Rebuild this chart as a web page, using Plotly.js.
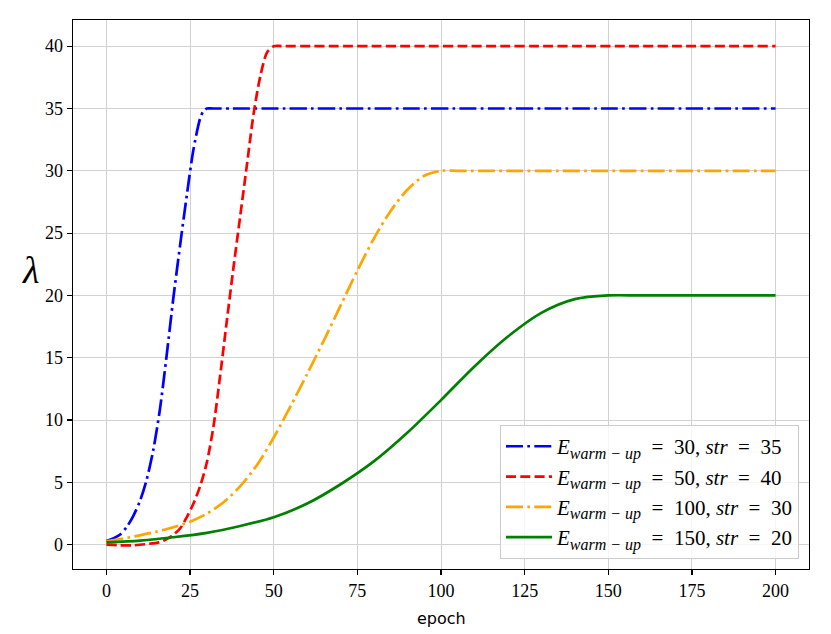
<!DOCTYPE html>
<html>
<head>
<meta charset="utf-8">
<script src="https://cdn.plot.ly/plotly-3.0.1.min.js"></script>
<style>html,body{margin:0;padding:0;background:#fff;}#chart{width:831px;height:634px;}</style>
</head>
<body>
<div id="chart"></div>
<script>
// Series data
var epochsBlue   = [0, 2, 4, 6, 8, 10, 12, 14, 16, 18, 20, 22, 24, 26, 28, 29, 30, 32, 200];
var lambdaBlue   = [0.3, 0.5, 0.8, 1.4, 2.3, 3.5, 5.2, 7.6, 10.9, 15.2, 19.8, 24.0, 28.0, 31.7, 34.2, 34.8, 35, 35, 35];

var epochsRed    = [0, 4, 8, 12, 16, 18, 20, 22, 24, 26, 28, 30, 32, 34, 36, 38, 40, 42, 44, 46, 48, 50, 53, 200];
var lambdaRed    = [0, -0.05, -0.05, 0.05, 0.2, 0.45, 0.8, 1.3, 2.2, 3.3, 4.7, 6.6, 9.5, 13.6, 18.0, 22.3, 26.4, 30.5, 34.6, 37.6, 39.5, 40, 40, 40];

var epochsOrange = [0, 5, 10, 15, 20, 25, 30, 35, 40, 45, 50, 55, 60, 65, 70, 75, 80, 85, 90, 95, 100, 105, 200];
var lambdaOrange = [0.27, 0.5, 0.75, 1.05, 1.4, 1.85, 2.5, 3.4, 4.7, 6.4, 8.6, 11.1, 13.7, 16.4, 19.2, 22.0, 24.6, 26.8, 28.5, 29.6, 30, 30, 30];

var epochsGreen  = [0, 10, 20, 30, 40, 50, 60, 70, 80, 90, 100, 110, 120, 130, 140, 150, 160, 200];
var lambdaGreen  = [0.18, 0.33, 0.6, 0.95, 1.5, 2.2, 3.3, 4.85, 6.7, 9.0, 11.6, 14.3, 16.7, 18.6, 19.7, 20, 20, 20];

var subText = '<sub><span style="font-size:16px"><i>warm − up</i></span></sub>';
var seriesNames = [
  '<i>E</i>' + subText + '\u2002=\u200230, <i>str</i>\u2002=\u200235',
  '<i>E</i>' + subText + '\u2002=\u200250, <i>str</i>\u2002=\u200240',
  '<i>E</i>' + subText + '\u2002=\u2002100, <i>str</i>\u2002=\u200230',
  '<i>E</i>' + subText + '\u2002=\u2002150, <i>str</i>\u2002=\u200220'
];
var xTickVals = [0, 25, 50, 75, 100, 125, 150, 175, 200];
var yTickVals = [0, 5, 10, 15, 20, 25, 30, 35, 40];

var LW = 2.7;
var dashDot = '17px,4.3px,2.7px,4.3px';
var dashed = '10px,4.3px';

var traces = [
  {x: epochsBlue, y: lambdaBlue, name: seriesNames[0], mode: 'lines', legendgroup: 'a',
   line: {color: '#0000ff', width: LW, dash: dashDot, shape: 'spline', smoothing: 0.8}},
  {x: epochsRed, y: lambdaRed, name: seriesNames[1], mode: 'lines', legendgroup: 'b',
   line: {color: '#ff0000', width: LW, dash: dashed, shape: 'spline', smoothing: 0.8}},
  {x: epochsOrange, y: lambdaOrange, name: seriesNames[2], mode: 'lines', legendgroup: 'c',
   line: {color: '#ffa500', width: LW, dash: dashDot, shape: 'spline', smoothing: 0.8}},
  {x: epochsGreen, y: lambdaGreen, name: seriesNames[3], mode: 'lines', legendgroup: 'd',
   line: {color: '#008000', width: LW, dash: 'solid', shape: 'spline', smoothing: 0.8}}
];

var axisCommon = {
  showline: true, linecolor: '#000', linewidth: 1.3, mirror: true,
  ticks: 'outside', ticklen: 5, tickwidth: 1.2, tickcolor: '#000',
  showgrid: true, gridcolor: '#d2d2d2', gridwidth: 1,
  zeroline: false,
  tickfont: {family: 'Liberation Serif, DejaVu Serif, serif', size: 18, color: '#000'}
};

var layout = {
  width: 831, height: 634,
  margin: {l: 73, r: 22, t: 20, b: 65},
  paper_bgcolor: '#fff', plot_bgcolor: '#fff',
  showlegend: true,
  xaxis: Object.assign({}, axisCommon, {range: [-10, 210], tickvals: xTickVals, ticktext: xTickVals.map(String)}),
  yaxis: Object.assign({}, axisCommon, {range: [-1.95, 42.1], tickvals: yTickVals, ticktext: yTickVals.map(String)}),
  legend: {
    x: 0.9864, y: 0.018, xanchor: 'right', yanchor: 'bottom',
    bgcolor: 'rgba(255,255,255,0.8)', bordercolor: '#cccccc', borderwidth: 1,
    font: {family: 'Liberation Serif, DejaVu Serif, serif', size: 21, color: '#000'},
    tracegroupgap: 0, itemwidth: 46
  },
  annotations: [
    {text: '<i>λ</i>', xref: 'paper', yref: 'paper', x: -0.058, y: 0.545, xanchor: 'center', yanchor: 'middle',
     showarrow: false, font: {family: 'Liberation Serif, DejaVu Serif, serif', size: 38, color: '#000'}},
    {text: 'epoch', xref: 'paper', yref: 'paper', x: 0.5, y: -0.091, xanchor: 'center', yanchor: 'middle',
     showarrow: false, font: {family: 'DejaVu Sans, sans-serif', size: 16, color: '#000'}}
  ]
};

Plotly.newPlot('chart', traces, layout, {displayModeBar: false, staticPlot: true});
</script>
</body>
</html>
